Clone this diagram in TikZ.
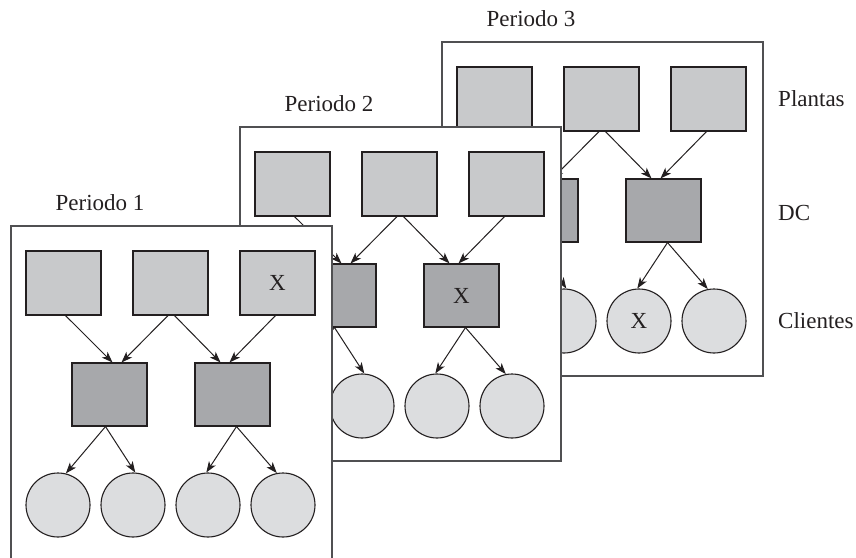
\documentclass[tikz,border=0pt]{standalone}
\usepackage{fontspec}
\setmainfont{Liberation Serif}
\usetikzlibrary{arrows.meta}
\definecolor{plantc}{RGB}{200,201,203}
\definecolor{dcc}{RGB}{167,168,171}
\definecolor{clientc}{RGB}{220,221,223}
\definecolor{edgec}{RGB}{35,31,32}
\definecolor{framec}{RGB}{80,80,82}
\tikzset{
  txt/.style={font=\fontsize{23}{27}\selectfont, text=edgec},
  panelframe/.style={draw=framec, line width=1.2pt, fill=white, rectangle, minimum width=321pt, minimum height=334pt, inner sep=0pt},
  plant/.style={draw=edgec, line width=1.1pt, fill=plantc, rectangle, minimum width=75pt, minimum height=64pt, inner sep=0pt, txt},
  dcbox/.style={draw=edgec, line width=1.1pt, fill=dcc, rectangle, minimum width=75pt, minimum height=63pt, inner sep=0pt, txt},
  client/.style={draw=edgec, line width=1.1pt, fill=clientc, circle, minimum size=64pt, inner sep=0pt, txt},
  arr/.style={draw=edgec, line width=1pt, -{Stealth[length=11pt,width=8pt,inset=3pt]}},
}
\newcommand\periodpanel[7]{%
  \begin{scope}[shift={(#2,#3)}]
    \node[panelframe] (#1frame) at (160.5,167) {};
    \node[txt] (#1title) at (89,-23) {#4};
    \node[plant] (#1p1) at (52.5,57) {};
    \node[plant] (#1p2) at (159.5,57) {};
    \node[plant] (#1p3) at (266.5,57) {#5};
    \node[dcbox] (#1d1) at (98.5,168.5) {};
    \node[dcbox] (#1d2) at (221.5,168.5) {#6};
    \node[client] (#1c1) at (47,279) {};
    \node[client] (#1c2) at (122,279) {};
    \node[client] (#1c3) at (197,279) {#7};
    \node[client] (#1c4) at (272,279) {};
    \draw[arr] ([xshift=2pt]#1p1.south) -- ([xshift=3pt]#1d1.north);
    \draw[arr] ([xshift=-2.5pt]#1p2.south) -- ([xshift=12pt]#1d1.north);
    \draw[arr] ([xshift=4pt]#1p2.south) -- ([xshift=-12pt]#1d2.north);
    \draw[arr] ([xshift=-2pt]#1p3.south) -- ([xshift=-3pt]#1d2.north);
    \draw[arr] ([xshift=-4pt]#1d1.south) -- (#1c1.76);
    \draw[arr] ([xshift=-4pt]#1d1.south) -- (#1c2.86);
    \draw[arr] ([xshift=4pt]#1d2.south) -- (#1c3.93);
    \draw[arr] ([xshift=4pt]#1d2.south) -- (#1c4.101);
  \end{scope}%
}
\begin{document}
\begin{tikzpicture}[x=1pt,y=-1pt]
  \useasboundingbox (0,0) rectangle (856,557);
  \periodpanel{pc}{442}{42}{Periodo 3}{}{}{X}
  \periodpanel{pb}{240}{127}{Periodo 2}{}{X}{}
  \periodpanel{pa}{11}{226}{Periodo 1}{X}{}{}
  \node[txt, anchor=west, inner xsep=0pt] (lplantas) at (778,99) {Plantas};
  \node[txt, anchor=west, inner xsep=0pt] (ldc) at (778,213) {DC};
  \node[txt, anchor=west, inner xsep=0pt] (lclientes) at (778,321) {Clientes};
\end{tikzpicture}
\end{document}
